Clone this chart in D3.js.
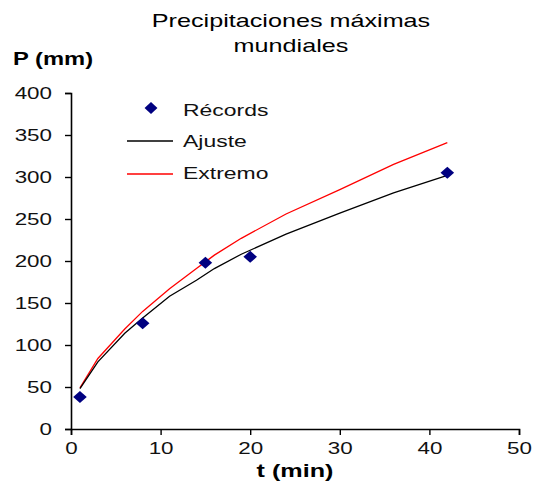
<!DOCTYPE html>
<html><head><meta charset="utf-8">
<script src="https://cdn.jsdelivr.net/npm/d3@7"></script>
<style>body{margin:0;background:#fff;} text{font-family:"Liberation Sans",Arial,sans-serif;}</style>
</head><body>
<svg id="c" width="540" height="482"></svg>
<script>
const recordT = [1, 8, 15, 20, 42];
const recordP = [38, 126, 198, 205, 305];
const fitT = [1, 3, 6, 8, 11, 14, 16, 19, 24, 30, 36, 42];
const ajusteP = [48, 80, 114, 132, 158, 177, 191, 208, 232, 257, 281, 302];
const extremoP = [49, 84, 119, 140, 167, 191, 207, 227, 256, 285, 315, 341];
const xTicks = [0, 10, 20, 30, 40, 50];
const yTicks = [0, 50, 100, 150, 200, 250, 300, 350, 400];
const legendLabels = ["Récords", "Ajuste", "Extremo"];

const svg = d3.select("#c");
const x = d3.scaleLinear().domain([0, 50]).range([71, 519]);
const y = d3.scaleLinear().domain([0, 400]).range([429, 93]);

function stretch(sel, sx) {
  sel.each(function () {
    const t = d3.select(this);
    const tx = +(t.attr("x") || 0), ty = +(t.attr("y") || 0);
    t.attr("x", 0).attr("y", 0).attr("transform", `translate(${tx},${ty}) scale(${sx},1)`);
  });
}

svg.append("g").attr("transform", "translate(0,429)")
  .call(d3.axisBottom(x).tickValues(xTicks).tickSize(6).tickPadding(8))
  .call(g => g.select(".domain").attr("stroke-width", 1.6))
  .call(g => g.selectAll(".tick line").attr("stroke-width", 1.4))
  .call(g => g.selectAll("text").attr("font-size", 16).attr("fill", "#111").call(stretch, 1.4));
svg.append("g").attr("transform", "translate(71,0)")
  .call(d3.axisLeft(y).tickValues(yTicks).tickSize(6).tickPadding(13))
  .call(g => g.select(".domain").attr("stroke-width", 1.6))
  .call(g => g.selectAll(".tick line").attr("stroke-width", 1.4))
  .call(g => g.selectAll("text").attr("font-size", 16).attr("fill", "#111").call(stretch, 1.4));

const line = d3.line().x(d => x(d[0])).y(d => y(d[1]));
svg.append("path").datum(fitT.map((t, i) => [t, extremoP[i]]))
  .attr("d", line).attr("fill", "none").attr("stroke", "#ff0000").attr("stroke-width", 1.3);
svg.append("path").datum(fitT.map((t, i) => [t, ajusteP[i]]))
  .attr("d", line).attr("fill", "none").attr("stroke", "#000").attr("stroke-width", 1.3);

const diamond = d3.symbol().type(d3.symbolDiamond).size(42);
svg.selectAll(".rec").data(recordT.map((t, i) => [t, recordP[i]])).enter()
  .append("path").attr("d", diamond)
  .attr("transform", d => `translate(${x(d[0])},${y(d[1])}) scale(1.95,1)`)
  .attr("fill", "#000080");

// legend
const lg = svg.append("g");
lg.append("path").attr("d", diamond).attr("transform", "translate(151,108) scale(1.85,1)").attr("fill", "#000080");
lg.append("line").attr("x1", 127).attr("x2", 173).attr("y1", 141).attr("y2", 141).attr("stroke", "#000").attr("stroke-width", 1.3);
lg.append("line").attr("x1", 127).attr("x2", 173).attr("y1", 174).attr("y2", 174).attr("stroke", "#ff0000").attr("stroke-width", 1.3);
[116, 147, 179].forEach((yy, i) => {
  lg.append("text").attr("x", 183).attr("y", yy).attr("font-size", 17).attr("fill", "#111").text(legendLabels[i]);
});
stretch(lg.selectAll("text"), 1.35);

svg.append("text").attr("class", "ttl").attr("x", 291).attr("y", 27).attr("text-anchor", "middle").attr("font-size", 18).text("Precipitaciones máximas");
svg.append("text").attr("class", "ttl").attr("x", 291).attr("y", 52).attr("text-anchor", "middle").attr("font-size", 18).text("mundiales");
stretch(svg.selectAll(".ttl"), 1.4);
svg.append("text").attr("class", "ylab").attr("x", 13).attr("y", 65).attr("font-size", 19).attr("font-weight", "bold").text("P (mm)");
stretch(svg.selectAll(".ylab"), 1.25);
svg.append("text").attr("class", "xlab").attr("x", 295).attr("y", 477).attr("text-anchor", "middle").attr("font-size", 18).attr("font-weight", "bold").text("t (min)");
stretch(svg.selectAll(".xlab"), 1.4);
</script>
</body></html>
